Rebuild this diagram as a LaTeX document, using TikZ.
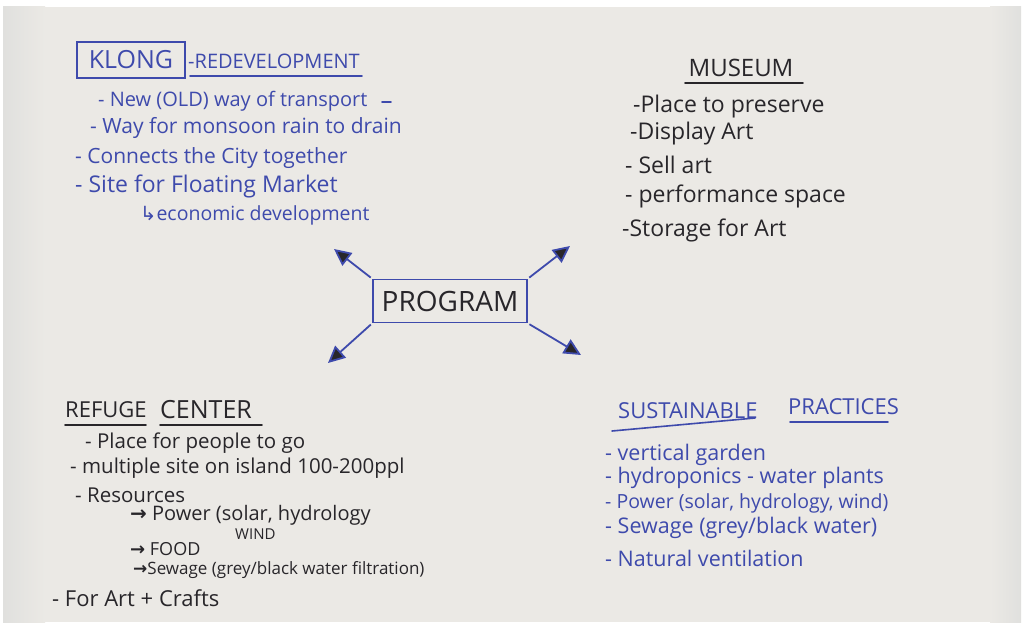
\documentclass[tikz,border=0pt]{standalone}
\usepackage{fontspec}
\setmainfont{Open Sans}
\newfontfamily\symfont{DejaVu Sans}
\usepackage{xcolor}
\usetikzlibrary{arrows.meta}

\definecolor{ink}{RGB}{62,74,172}
\definecolor{pen}{RGB}{40,38,42}
\definecolor{paper}{RGB}{235,233,229}
\definecolor{edge}{RGB}{224,224,222}

\begin{document}
\begin{tikzpicture}[x=1pt,y=-1pt,
  note/.style={anchor=west, inner sep=0pt, font=\fontsize{21}{23}\selectfont},
  bluenote/.style={note, text=ink},
  blacknote/.style={note, text=pen},
  title/.style={note, font=\fontsize{22}{24}\selectfont},
  uline/.style={line width=1.6pt, line cap=round},
  spoke/.style={draw=ink, line width=1.8pt, shorten <=2pt,
    -{Triangle[length=17pt, width=16pt, fill=pen]}}]
\useasboundingbox (0,0) rectangle (1024,626);
% sheet of paper
\fill[white] (0,0) rectangle (1024,626);
\fill[paper] (3,7) rectangle (1021,622);
\shade[left color=edge, right color=paper] (3,7) rectangle (45,622);
\shade[left color=paper, right color=edge] (990,7) rectangle (1021,622);

% klong
\node[title, draw=ink, line width=1.4pt, text=ink, minimum width=108pt,
  minimum height=36pt, anchor=center, font=\fontsize{25}{27}\selectfont] (klong) at (131,60) {KLONG};
\node[title, text=ink, font=\fontsize{20}{22}\selectfont] (redev) at (188,61) {-REDEVELOPMENT};
\draw[uline, ink] (190,76) -- (362,76);
\node[bluenote, font=\fontsize{20}{22}\selectfont] (k1) at (98,101) {- New (OLD) way of transport};
\node[bluenote] (k2) at (90,128) {- Way for monsoon rain to drain};
\node[bluenote] (k3) at (75,158) {- Connects the City together};
\node[bluenote, font=\fontsize{23}{25}\selectfont] (k4) at (75,186) {- Site for Floating Market};
\node[bluenote, font=\fontsize{19.5}{22}\selectfont] (k5) at (140,215) {{\symfont ↳}economic development};
\draw[uline, ink] (382,102) -- (391,102);

% museum
\node[title, text=pen, anchor=center, font=\fontsize{24}{26}\selectfont] (museum) at (741,68) {MUSEUM};
\draw[uline, pen] (685,83) -- (803,83);
\node[blacknote, font=\fontsize{23}{25}\selectfont] (m1) at (633,107) {-Place to preserve};
\node[blacknote, font=\fontsize{23}{25}\selectfont] (m2) at (630,134) {-Display Art};
\node[blacknote, font=\fontsize{23}{25}\selectfont] (m3) at (625,165) {- Sell art};
\node[blacknote, font=\fontsize{23}{25}\selectfont] (m4) at (625,196) {- performance space};
\node[blacknote, font=\fontsize{23}{25}\selectfont] (m5) at (622,230) {-Storage for Art};

% program
\node[title, text=pen, draw=ink, line width=1.4pt, minimum width=154pt,
  minimum height=43pt, anchor=center, font=\fontsize{28}{30}\selectfont] (prog) at (450,301) {PROGRAM};
\coordinate (klongend) at (334,249);
\coordinate (museumend) at (570,246);
\coordinate (refugeend) at (328,363);
\coordinate (sustend) at (581,355);
\draw[spoke] (prog.north west) -- (klongend);
\draw[spoke] (prog.north east) -- (museumend);
\draw[spoke] (prog.south west) -- (refugeend);
\draw[spoke] (prog.south east) -- (sustend);

% refuge center
\node[title, text=pen] (refuge) at (65,410) {REFUGE};
\node[title, text=pen, font=\fontsize{25}{27}\selectfont] (center) at (160,410) {CENTER};
\draw[uline, pen] (65,425) -- (146,425);
\draw[uline, pen] (160,425) -- (262,425);
\node[blacknote, font=\fontsize{20.5}{22}\selectfont] (r1) at (85,443) {- Place for people to go};
\node[blacknote, font=\fontsize{20.5}{22}\selectfont] (r2) at (70,468) {- multiple site on island 100-200ppl};
\node[blacknote, font=\fontsize{20.5}{22}\selectfont] (r3) at (75,495) {- Resources};
\node[blacknote, font=\fontsize{20}{22}\selectfont] (r4) at (130,515) {{\symfont\bfseries →} Power (solar, hydrology};
\node[blacknote, font=\fontsize{15}{17}\selectfont] (r5) at (235,534) {WIND};
\node[blacknote, font=\fontsize{18}{20}\selectfont] (r6) at (130,549) {{\symfont\bfseries →} FOOD};
\node[blacknote, font=\fontsize{17}{19}\selectfont] (r7) at (133,570) {{\symfont\bfseries →}Sewage (grey/black water filtration)};
\node[blacknote, font=\fontsize{22}{24}\selectfont] (r8) at (52,598) {- For Art + Crafts};

% sustainable practices
\node[title, text=ink] (sust) at (618,411) {SUSTAINABLE};
\node[title, text=ink] (pract) at (788,407) {PRACTICES};
\draw[uline, ink] (612,431) -- (755,418);
\draw[uline, ink] (790,422) -- (888,422);
\node[bluenote, font=\fontsize{21.5}{23}\selectfont] (s1) at (605,455) {- vertical garden};
\node[bluenote, font=\fontsize{21.5}{23}\selectfont] (s2) at (605,478) {- hydroponics - water plants};
\node[bluenote, font=\fontsize{19.5}{21}\selectfont] (s3) at (605,503) {- Power (solar, hydrology, wind)};
\node[bluenote, font=\fontsize{21.5}{23}\selectfont] (s4) at (605,528) {- Sewage (grey/black water)};
\node[bluenote, font=\fontsize{21.5}{23}\selectfont] (s5) at (605,558) {- Natural ventilation};
\end{tikzpicture}
\end{document}
